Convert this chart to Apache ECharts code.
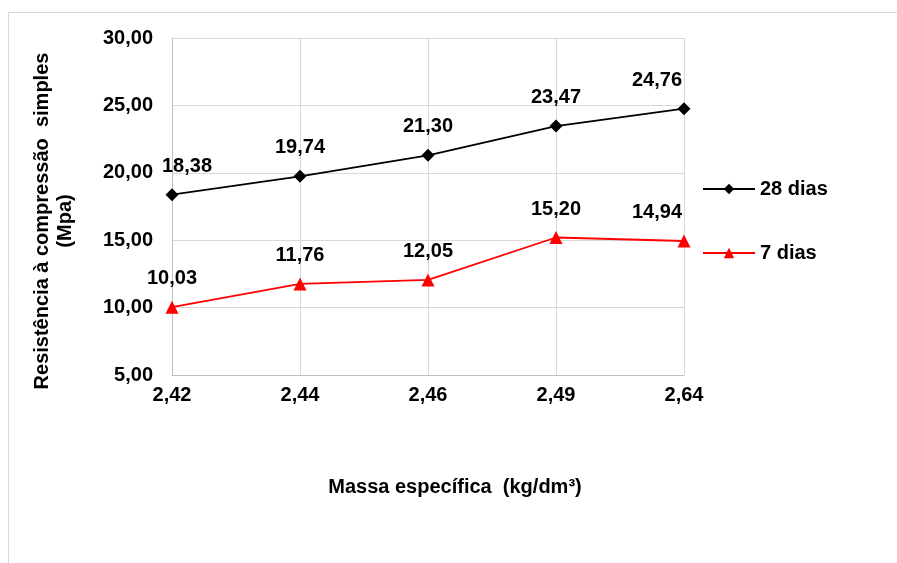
<!DOCTYPE html>
<html>
<head>
<meta charset="utf-8">
<script src="https://cdn.jsdelivr.net/npm/echarts@6/dist/echarts.min.js"></script>
<style>html,body{margin:0;padding:0;background:#fff}#c{width:897px;height:563px}</style>
</head>
<body>
<div id="c"></div>
<script>
const categories = ['2,42', '2,44', '2,46', '2,49', '2,64'];
const dias28 = [18.38, 19.74, 21.30, 23.47, 24.76];
const dias7 = [10.03, 11.76, 12.05, 15.20, 14.94];
const seriesNames = ['28 dias', '7 dias'];
const yTitle = ['Resistência à compressão  simples', '(Mpa)'];
const xTitle = 'Massa específica  (kg/dm³)';

const FONT = 'Liberation Sans, Arial, sans-serif';
const FS = 20;
const fmt = v => v.toFixed(2).replace('.', ',');

function withOffsets(arr, offsets) {
  return arr.map((v, i) => {
    const o = offsets[i];
    return o ? { value: v, label: { offset: o } } : v;
  });
}

const chart = echarts.init(document.getElementById('c'), null, { renderer: 'canvas' });
chart.setOption({
  animation: false,
  backgroundColor: '#fff',
  grid: { left: 172, right: 213, top: 38, bottom: 188, containLabel: false },
  xAxis: {
    type: 'category',
    data: categories,
    boundaryGap: false,
    axisLine: { lineStyle: { color: '#bfbfbf', width: 1 } },
    axisTick: { show: false },
    splitLine: { show: true, lineStyle: { color: '#d9d9d9', width: 1 } },
    axisLabel: { margin: 10, color: '#000', fontFamily: FONT, fontWeight: 'bold', fontSize: FS }
  },
  yAxis: {
    type: 'value',
    min: 5, max: 30, interval: 5,
    axisLine: { show: true, lineStyle: { color: '#bfbfbf', width: 1 } },
    axisTick: { show: false },
    splitLine: { show: true, lineStyle: { color: '#d9d9d9', width: 1 } },
    axisLabel: { margin: 19, color: '#000', fontFamily: FONT, fontWeight: 'bold', fontSize: FS, formatter: fmt }
  },
  legend: {
    orient: 'vertical',
    left: 697, top: 174,
    itemWidth: 52, itemHeight: 13, itemGap: 44,
    textStyle: { color: '#000', fontFamily: FONT, fontWeight: 'bold', fontSize: FS },
    data: seriesNames
  },
  series: [
    {
      name: seriesNames[0], type: 'line',
      data: withOffsets(dias28, { 0: [15, 0], 4: [-27, 0] }),
      color: '#000',
      lineStyle: { color: '#000', width: 1.8 },
      symbol: 'diamond', symbolSize: 13,
      itemStyle: { color: '#000' },
      label: { show: true, position: 'top', distance: 12, color: '#000', fontFamily: FONT, fontWeight: 'bold', fontSize: FS, formatter: p => fmt(p.value) }
    },
    {
      name: seriesNames[1], type: 'line',
      data: withOffsets(dias7, { 4: [-27, 0] }),
      color: '#ff0000',
      lineStyle: { color: '#ff0000', width: 1.8 },
      symbol: 'triangle', symbolSize: 13,
      itemStyle: { color: '#ff0000' },
      label: { show: true, position: 'top', distance: 12, color: '#000', fontFamily: FONT, fontWeight: 'bold', fontSize: FS, formatter: p => fmt(p.value) }
    }
  ],
  graphic: [
    { type: 'rect', silent: true, z: -10, shape: { x: 8.5, y: 12.5, width: 950, height: 600 }, style: { fill: 'none', stroke: '#d9d9d9', lineWidth: 1 } },
    { type: 'text', x: 42, y: 221, rotation: Math.PI / 2, style: { text: yTitle[0], align: 'center', verticalAlign: 'middle', fill: '#000', font: 'bold ' + FS + 'px ' + FONT } },
    { type: 'text', x: 65, y: 221, rotation: Math.PI / 2, style: { text: yTitle[1], align: 'center', verticalAlign: 'middle', fill: '#000', font: 'bold ' + FS + 'px ' + FONT } },
    { type: 'text', x: 455, y: 487, style: { text: xTitle, align: 'center', verticalAlign: 'middle', fill: '#000', font: 'bold ' + FS + 'px ' + FONT } }
  ]
});
</script>
</body>
</html>
